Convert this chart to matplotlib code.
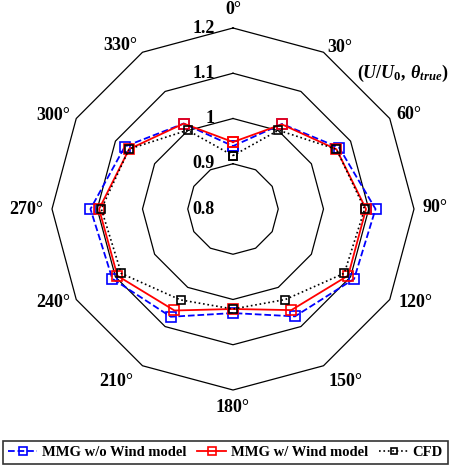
import numpy as np
import matplotlib
matplotlib.use("Agg")
import matplotlib.pyplot as plt

plt.rcParams['font.family'] = ['Liberation Serif', 'DejaVu Serif']
plt.rcParams['font.weight'] = 'bold'
plt.rcParams['mathtext.fontset'] = 'custom'
plt.rcParams['mathtext.it'] = 'Liberation Serif:italic:bold'
plt.rcParams['mathtext.rm'] = 'Liberation Serif:bold'

# wind direction (deg) and U/U0 values
angles = [0, 30, 60, 90, 120, 150, 180, 210, 240, 270, 300, 330]
mmg_no_wind = [0.939, 1.017, 1.071, 1.115, 1.109, 1.074, 1.030, 1.075, 1.108, 1.115, 1.076, 1.018]
mmg_wind = [0.948, 1.016, 1.064, 1.094, 1.094, 1.058, 1.021, 1.059, 1.095, 1.096, 1.065, 1.018]
cfd = [0.918, 1.001, 1.064, 1.091, 1.084, 1.031, 1.021, 1.032, 1.085, 1.091, 1.065, 1.001]
rings = [0.9, 1.0, 1.1, 1.2]
ring_labels = ['0.8', '0.9', '1', '1.1', '1.2']

theta = np.deg2rad(angles + [angles[0]])


def closed(vals):
    return list(vals) + [vals[0]]


fig = plt.figure(figsize=(4.52, 4.66), dpi=100)
ax = fig.add_axes([52 / 452, 76 / 466, 362 / 452, 362 / 466], projection='polar')
ax.set_theta_zero_location('N')
ax.set_theta_direction(-1)
ax.set_ylim(0.8, 1.2)
ax.grid(False)
ax.spines['polar'].set_visible(False)
ax.set_xticks([])
ax.set_yticks([])
ax.patch.set_facecolor('none')

# polygon grid
for r in rings:
    ax.plot(theta, [r] * len(theta), color='k', lw=0.9, clip_on=False, zorder=1)

# radial labels, left of the 0 deg axis
for r, lab in zip([0.8] + rings, ring_labels):
    ax.annotate(lab, xy=(0, r), xytext=(-18, 0), textcoords='offset pixels',
                ha='right', va='center', fontsize=13, fontweight='bold')

# angle labels
offs = {0: (0, 19, 'center'), 30: (4, 5, 'left'), 60: (7, 4, 'left'),
        90: (9, 1, 'left'), 120: (9, -3, 'left'), 150: (5, -16, 'left'),
        180: (0, -18, 'center'), 210: (-9, -16, 'right'), 240: (-6, -3, 'right'),
        270: (-9, -1, 'right'), 300: (-6, 3, 'right'), 330: (-5, 7, 'right')}
for a in angles:
    dx, dy, ha = offs[a]
    ax.annotate('%d°' % a, xy=(np.deg2rad(a), 1.2), xytext=(dx, dy),
                textcoords='offset pixels', ha=ha, va='center',
                fontsize=13, fontweight='bold', annotation_clip=False)

ax.plot(theta, closed(mmg_no_wind), '--', color='#0000ff', lw=1.3, marker='s',
        ms=7, mfc='none', mew=1.2, label='MMG w/o Wind model', clip_on=False, zorder=3)
ax.plot(theta, closed(mmg_wind), '-', color='#ff0000', lw=1.3, marker='s',
        ms=7, mfc='none', mew=1.2, label='MMG w/ Wind model', clip_on=False, zorder=4)
ax.plot(theta, closed(cfd), ':', color='k', lw=1.2, marker='s',
        ms=6, mfc='none', mew=1.2, label='CFD', clip_on=False, zorder=5)

fig.text(448 / 452, 1 - 73 / 466, r'$(U/U_0,\,\theta_{true})$', ha='right',
         va='center', fontsize=13)

leg = fig.legend(loc='lower left', bbox_to_anchor=(3 / 452, 2 / 466, 445 / 452, 26 / 466),
                 mode='expand', ncol=3, fontsize=10.5, frameon=True, fancybox=False,
                 edgecolor='k', handlelength=2.0, handletextpad=0.3, borderaxespad=0,
                 columnspacing=1.0, borderpad=0.35, markerscale=0.75)
leg.get_frame().set_linewidth(1.2)
for t in leg.get_texts():
    t.set_fontweight('bold')

fig.savefig('out.png', dpi=100)
